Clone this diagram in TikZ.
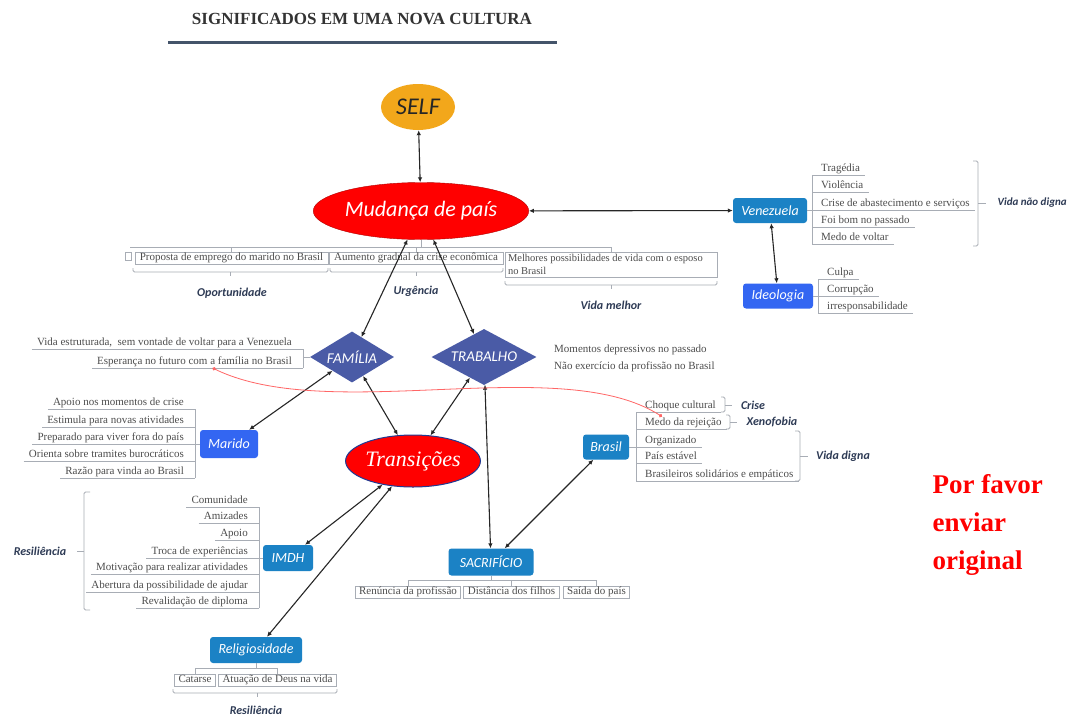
\documentclass[tikz,border=0pt]{standalone}
\usepackage{fontspec}
\setmainfont{Liberation Serif}
\newfontfamily\carlito{Carlito}
\usepackage{xcolor}
\usetikzlibrary{shapes.geometric}
\usetikzlibrary{arrows.meta}

\definecolor{selforange}{HTML}{F2A71B}
\definecolor{mudred}{HTML}{FF0000}
\definecolor{topicblue}{HTML}{1B82C5}
\definecolor{brightblue}{HTML}{3366F2}
\definecolor{diamondblue}{HTML}{4A5BA6}
\definecolor{itemgray}{HTML}{4D4D4D}
\definecolor{linegray}{HTML}{A8ADB5}
\definecolor{labelnavy}{HTML}{2E3B55}
\definecolor{titleline}{HTML}{44546A}
\definecolor{ovalblue}{HTML}{1F3A93}

\begin{document}
\begin{tikzpicture}
  [
    x=1pt, y=-1pt,
    ulline/.style={
       draw=linegray,
       line width=0.8pt
    },
    brk/.style={
       ulline,
       rounded corners=1.5pt
    },
    item/.style={
       font=\fontsize{11}{13}\selectfont,
       text=itemgray,
       inner xsep=5pt,
       inner ysep=1pt,
       text height=7.5pt,
       text depth=2.5pt
    },
    rli/.style={
       item,
       anchor=south west,
       xshift=4pt,
       append after command={([xshift=-4pt]\tikzlastnode.south west) edge[ulline] (\tikzlastnode.south east)}
    },
    lli/.style={
       item,
       anchor=south east,
       xshift=-6pt,
       append after command={(\tikzlastnode.south west) edge[ulline] ([xshift=6pt]\tikzlastnode.south east)}
    },
    boxitem/.style={
       item,
       draw=linegray,
       line width=0.8pt,
       inner xsep=4pt
    },
    topic/.style={
       rectangle,
       rounded corners=3pt,
       fill=topicblue,
       text=white,
       font=\carlito\itshape\fontsize{14}{16}\selectfont,
       inner sep=0pt
    },
    rhomb/.style={
       diamond,
       aspect=2,
       fill=diamondblue,
       text=white,
       font=\carlito\itshape\fontsize{15}{17}\selectfont,
       inner sep=0pt
    },
    grouplabel/.style={
       font=\carlito\bfseries\itshape\fontsize{12}{14}\selectfont,
       text=labelnavy
    },
    arr/.style={
       draw=black!85,
       line width=1.1pt,
       {Latex[length=5pt,width=4.5pt]}-{Latex[length=5pt,width=4.5pt]}
    }
  ]
  \useasboundingbox (0,0) rectangle (1070,720);
  \fill[white] (0,0) rectangle (1070,720);

  % title
  \node (title) at (362,19) [font=\bfseries\fontsize{17}{19}\selectfont, text=black!80] {SIGNIFICADOS EM UMA NOVA CULTURA};
  \draw [titleline, line width=3pt] (168,42) -- (557,42);

  % main ideas
  \node (self) at (418,107) [ellipse, fill=selforange, minimum width=74pt, minimum height=46pt, inner sep=0pt,
        font=\carlito\itshape\fontsize{24}{26}\selectfont, text=black!85] {SELF};
  \node (mud)  at (421,211) [ellipse, fill=mudred, draw=red!70!black, line width=0.4pt, minimum width=185pt,
        minimum height=57pt, inner sep=0pt, font=\carlito\itshape\fontsize{22}{26}\selectfont, text=white] {Mudança de país};
  \node (trans) at (413,461) [ellipse, fill=mudred, draw=ovalblue, line width=1pt, minimum width=133pt,
        minimum height=52pt, inner sep=0pt, font=\itshape\fontsize{22}{24}\selectfont, text=white] {Transições};

  \node (fam)  at (352,357) [rhomb, minimum width=84pt,  minimum height=51pt] {FAMÍLIA};
  \node (trab) at (484,357) [rhomb, minimum width=105pt, minimum height=56pt] {TRABALHO};

  \node (venez)  at (770,210.5) [topic, minimum width=74pt, minimum height=25pt] {Venezuela};
  \node (ideo)   at (778,296)   [topic, fill=brightblue, minimum width=70pt, minimum height=25pt] {Ideologia};
  \node (marido) at (229,444)   [topic, fill=brightblue, minimum width=58pt, minimum height=28pt] {Marido};
  \node (imdh)   at (288,558)   [topic, minimum width=50pt, minimum height=26pt] {IMDH};
  \node (sacr)   at (491,562)   [topic, minimum width=85pt, minimum height=27pt] {SACRIFÍCIO};
  \node (brasil) at (606,447)   [topic, minimum width=46pt, minimum height=25pt] {Brasil};
  \node (relig)  at (256,650)   [topic, minimum width=92pt, minimum height=26pt] {Religiosidade};

  % Mudança de país
  \coordinate (mudbar) at (421,247);
  \node (b1) at (231.5,258) [boxitem, minimum width=193pt] {Proposta de emprego do marido no Brasil};
  \node (b2) at (416,258)   [boxitem, minimum width=174pt] {Aumento gradual da crise econômica};
  \node (b3) at (611,264.5) [boxitem, text width=206pt, inner xsep=3pt, align=flush left, text height=8pt, text depth=15pt,
        font=\fontsize{10.5}{13}\selectfont] {Melhores possibilidades de vida com o esposo\\no Brasil};
  \draw [ulline] (125,252) rectangle (131,260);
  \draw [ulline] (130,247) -- (b3.north |- mudbar);
  \draw [ulline] (mud.south) -- (mudbar);
  \draw [ulline] (b1.north) -- (b1.north |- mudbar);
  \draw [ulline] (b2.north) -- (b2.north |- mudbar);
  \draw [ulline] (b3.north) -- (b3.north |- mudbar);
  \draw [brk] (133,268) |- (328,272) -- (328,268);
  \draw [brk] (230,272) -- (230,276);
  \draw [brk] (330,268) |- (503,272) -- (503,268);
  \draw [brk] (416,272) -- (416,276);
  \draw [brk] (505,281) |- (717,285) -- (717,281);
  \draw [brk] (611,285) -- (611,289);
  \node (oport) at (232,293) [grouplabel] {Oportunidade};
  \node (urg)   at (416,291) [grouplabel] {Urgência};
  \node (vmel)  at (611,305) [grouplabel] {Vida melhor};

  % Venezuela
  \coordinate (vzbar) at (812,175);
  \node (vz1) at (812,175) [rli] {Tragédia};
  \node (vz2) at (812,192) [rli] {Violência};
  \node (vz3) at (812,210) [rli] {Crise de abastecimento e serviços};
  \node (vz4) at (812,227) [rli] {Foi bom no passado};
  \node (vz5) at (812,244) [rli] {Medo de voltar};
  \draw [ulline] (vzbar) -- (812,244);
  \draw [ulline] (venez.east) -- (venez.east -| vzbar);
  \draw [brk] (973,161) -- (978,161) -- (978,246) -- (973,246);
  \draw [brk] (978,203) -- (986,203);
  \node (vnd) at (994,203) [grouplabel, anchor=west, font=\carlito\bfseries\itshape\fontsize{11}{13}\selectfont] {Vida não digna};

  % Ideologia
  \coordinate (idbar) at (818,279);
  \node (id1) at (818,279) [rli] {Culpa};
  \node (id2) at (818,296) [rli] {Corrupção};
  \node (id3) at (818,313) [rli] {irresponsabilidade};
  \draw [ulline] (idbar) -- (818,313);
  \draw [ulline] (ideo.east) -- (ideo.east -| idbar);

  % Família
  \coordinate (fabar) at (303,349);
  \node (fa1) at (303,349) [lli] {Vida estruturada,\ \ sem vontade de voltar para a Venezuela};
  \node (fa2) at (303,368) [lli] {Esperança no futuro com a família no Brasil};
  \draw [ulline] (fabar) -- (303,368);
  \draw [ulline] (fam.west) -- (fam.west -| fabar);

  % Trabalho
  \node (tr1) at (554,350) [item, anchor=west, inner xsep=0pt] {Momentos depressivos no passado};
  \node (tr2) at (554,367) [item, anchor=west, inner xsep=0pt] {Não exercício da profissão no Brasil};

  % Marido
  \coordinate (mabar) at (195,409);
  \node (ma1) at (195,409) [lli] {Apoio nos momentos de crise};
  \node (ma2) at (195,427) [lli] {Estimula para novas atividades};
  \node (ma3) at (195,444) [lli] {Preparado para viver fora do país};
  \node (ma4) at (195,461) [lli] {Orienta sobre tramites burocráticos};
  \node (ma5) at (195,478) [lli] {Razão para vinda ao Brasil};
  \draw [ulline] (mabar) -- (195,478);
  \draw [ulline] (marido.west) -- (marido.west -| mabar);

  % IMDH
  \coordinate (imbar) at (259,507);
  \node (im1) at (259,507) [lli] {Comunidade};
  \node (im2) at (259,523) [lli] {Amizades};
  \node (im3) at (259,540) [lli] {Apoio};
  \node (im4) at (259,558) [lli] {Troca de experiências};
  \node (im5) at (259,574) [lli] {Motivação para realizar atividades};
  \node (im6) at (259,592) [lli] {Abertura da possibilidade de ajudar};
  \node (im7) at (259,608) [lli] {Revalidação de diploma};
  \draw [ulline] (imbar) -- (259,608);
  \draw [ulline] (imdh.west) -- (imdh.west -| imbar);
  \draw [brk] (90,492) -- (84,492) -- (84,610) -- (90,610);
  \draw [brk] (84,551) -- (77,551);
  \node (resil1) at (40,551) [grouplabel] {Resiliência};

  % Brasil
  \coordinate (brbar) at (636,412);
  \node (br1) at (636,412) [rli] {Choque cultural};
  \node (br2) at (636,429) [rli] {Medo da rejeição};
  \node (br3) at (636,447) [rli] {Organizado};
  \node (br4) at (636,463) [rli] {País estável};
  \node (br5) at (636,481) [rli] {Brasileiros solidários e empáticos};
  \draw [ulline] (brbar) -- (636,481);
  \draw [ulline] (brasil.east) -- (brasil.east -| brbar);
  \draw [brk] (721,397) -- (725,397) -- (725,412) -- (721,412);
  \draw [brk] (725,405) -- (732,405);
  \draw [brk] (726,415) -- (730,415) -- (730,429) -- (726,429);
  \draw [brk] (730,422) -- (737,422);
  \draw [brk] (795,431) -- (800,431) -- (800,481) -- (795,481);
  \draw [brk] (800,456) -- (808,456);
  \node (crise) at (753,405) [grouplabel] {Crise};
  \node (xeno)  at (772,422) [grouplabel] {Xenofobia};
  \node (vdig)  at (843,456) [grouplabel] {Vida digna};

  % Sacrifício
  \coordinate (sabar) at (491,580);
  \node (sa1) at (408,592)   [boxitem] {Renúncia da profissão};
  \node (sa2) at (511.5,592) [boxitem] {Distância dos filhos};
  \node (sa3) at (596.5,592) [boxitem] {Saída do país};
  \draw [ulline] (sa1.north |- sabar) -- (sa3.north |- sabar);
  \draw [ulline] (sacr.south) -- (sabar);
  \draw [ulline] (sa1.north) -- (sa1.north |- sabar);
  \draw [ulline] (sa2.north) -- (sa2.north |- sabar);
  \draw [ulline] (sa3.north) -- (sa3.north |- sabar);

  % Religiosidade
  \coordinate (rebar) at (256,668);
  \node (re1) at (195,680)   [boxitem] {Catarse};
  \node (re2) at (277.5,680) [boxitem] {Atuação de Deus na vida};
  \draw [ulline] (re1.north |- rebar) -- (re2.north |- rebar);
  \draw [ulline] (relig.south) -- (rebar);
  \draw [ulline] (re1.north) -- (re1.north |- rebar);
  \draw [ulline] (re2.north) -- (re2.north |- rebar);
  \draw [brk] (173,689) |- (337,693) -- (337,689);
  \draw [brk] (257,693) -- (257,697);
  \node (resil2) at (256,710) [grouplabel] {Resiliência};

  % connections
  \draw [arr] (self) -- (mud);
  \draw [arr] (mud) -- (venez);
  \draw [arr] (venez) -- (ideo);
  \draw [arr] (mud) -- (fam);
  \draw [arr] (mud) -- (trab);
  \draw [arr] (fam) -- (trans);
  \draw [arr] (trab) -- (trans);
  \draw [arr] (fam) -- (marido);
  \draw [arr] (trab) -- (sacr);
  \draw [arr] (brasil) -- (sacr);
  \draw [arr] (trans) -- (imdh);
  \draw [arr] (trans) -- (relig);

  % relation
  \draw [red!60, line width=0.8pt, {Circle[length=3.5pt]}-{Circle[length=3.5pt]}]
        ([xshift=18pt]fa2.south) .. controls (330,425) and (560,352) .. ([xshift=22pt]br2.north west);

  \node (note) at (929,525) [anchor=west, align=left, text=red, font=\bfseries\fontsize{27}{38}\selectfont]
        {Por favor\\enviar\\original};
\end{tikzpicture}
\end{document}
